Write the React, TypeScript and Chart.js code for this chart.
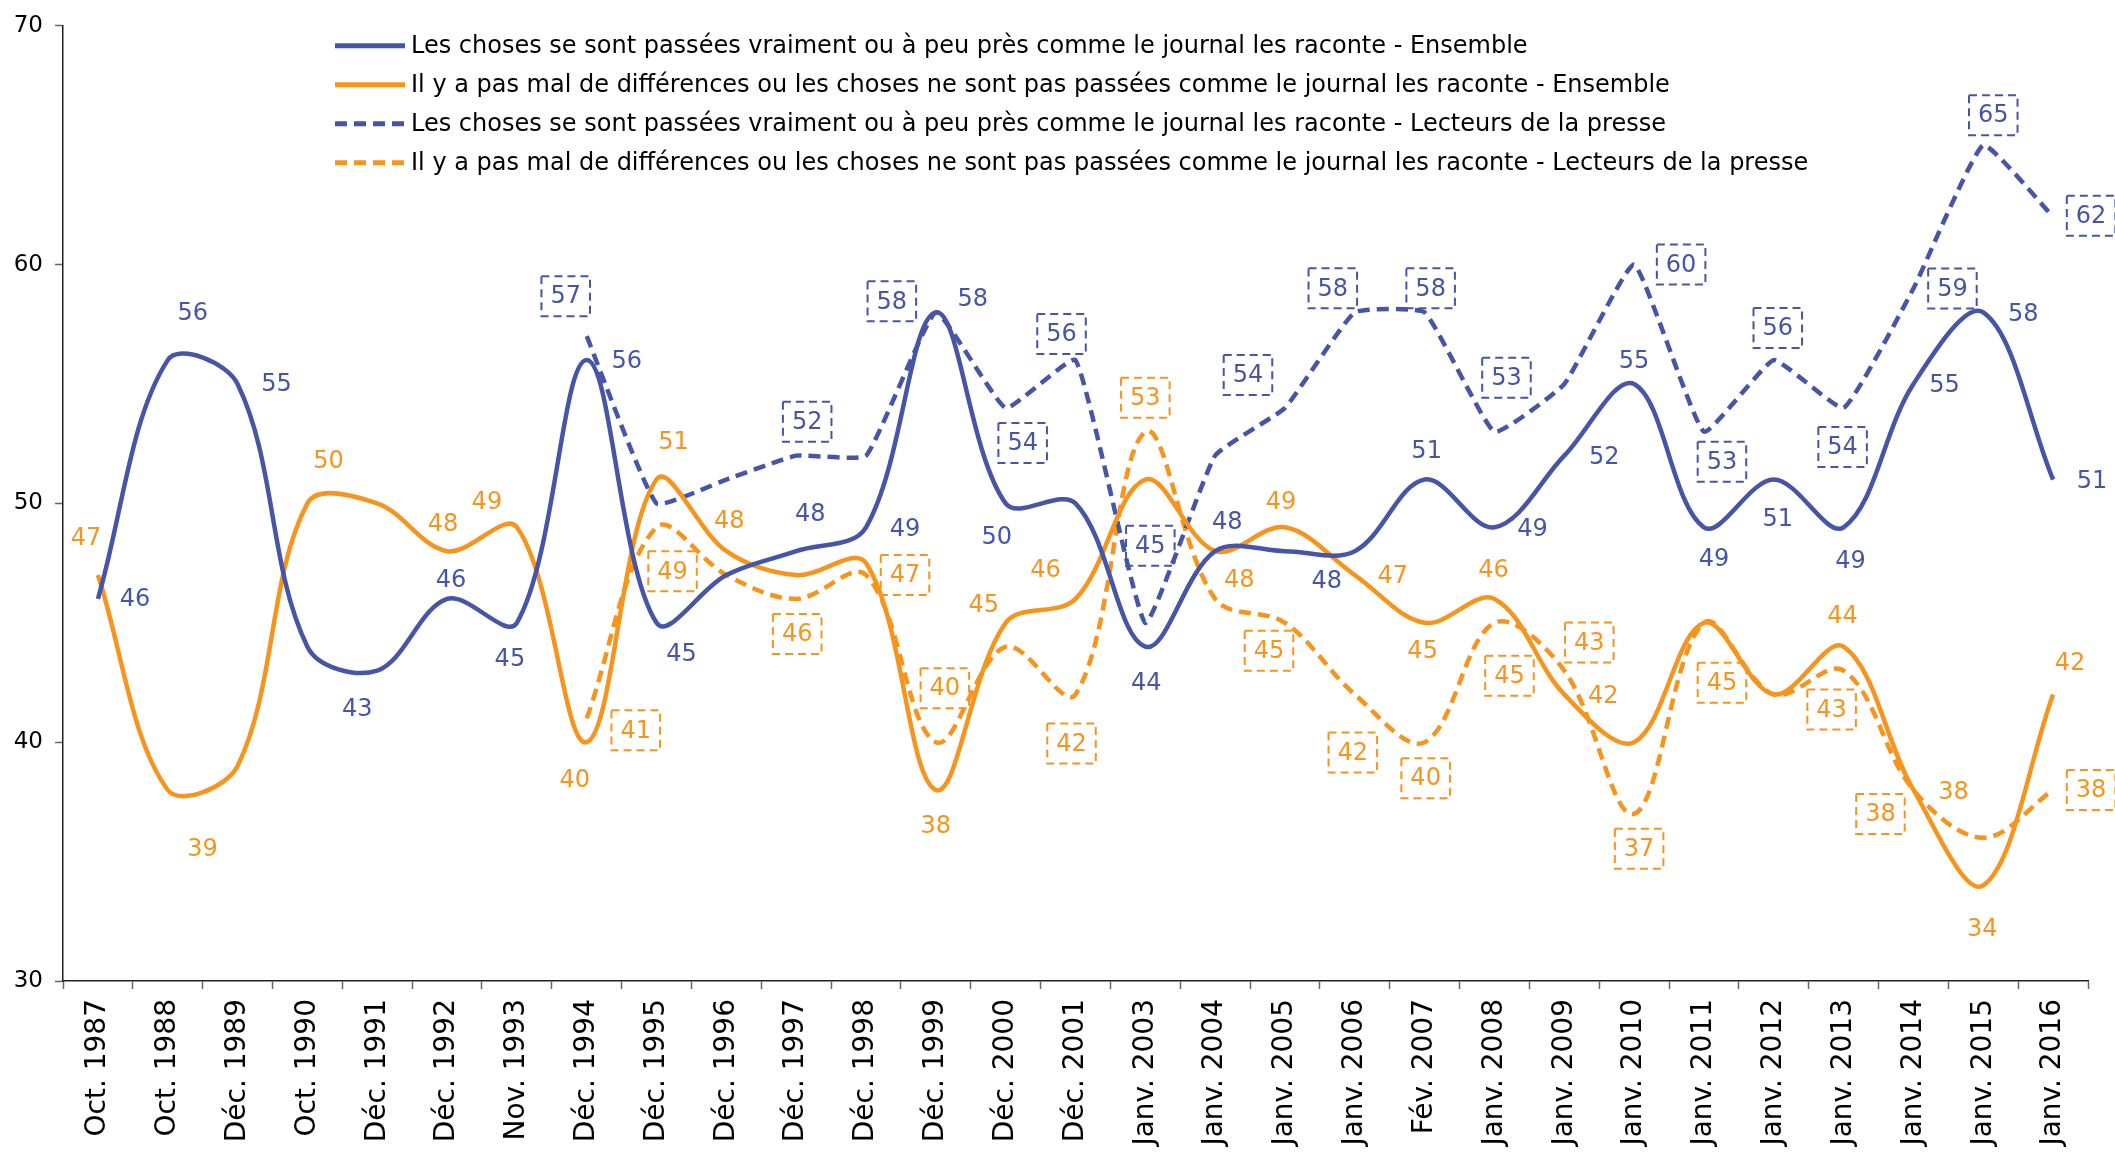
import { useEffect, useRef } from 'react';
import { Chart, registerables } from 'chart.js';

Chart.register(...registerables);

// ---------- DATA ----------
const categories = [
  'Oct. 1987', 'Oct. 1988', 'Déc. 1989', 'Oct. 1990', 'Déc. 1991', 'Déc. 1992', 'Nov. 1993',
  'Déc. 1994', 'Déc. 1995', 'Déc. 1996', 'Déc. 1997', 'Déc. 1998', 'Déc. 1999', 'Déc. 2000',
  'Déc. 2001', 'Janv. 2003', 'Janv. 2004', 'Janv. 2005', 'Janv. 2006', 'Fév. 2007', 'Janv. 2008',
  'Janv. 2009', 'Janv. 2010', 'Janv. 2011', 'Janv. 2012', 'Janv. 2013', 'Janv. 2014', 'Janv. 2015',
  'Janv. 2016',
];

const seriesNames = [
  'Les choses se sont passées vraiment ou à peu près comme le journal les raconte - Ensemble',
  'Il y a pas mal de différences ou les choses ne sont pas passées comme le journal les raconte - Ensemble',
  'Les choses se sont passées vraiment ou à peu près comme le journal les raconte - Lecteurs de la presse',
  'Il y a pas mal de différences ou les choses ne sont pas passées comme le journal les raconte - Lecteurs de la presse',
];

const ensembleVraiment = [46, 56, 55, 44, 43, 46, 45, 56, 45, 47, 48, 49, 58, 50, 50, 44, 48, 48, 48, 51, 49, 52, 55, 49, 51, 49, 55, 58, 51];
const ensembleDifferences = [47, 38, 39, 50, 50, 48, 49, 40, 51, 48, 47, 47.5, 38, 45, 46, 51, 48, 49, 47, 45, 46, 42, 40, 45, 42, 44, 38, 34, 42];
const lecteursVraiment = [null, null, null, null, null, null, null, 57, 50, 51, 52, 52, 58, 54, 56, 45, 52, 54, 58, 58, 53, 55, 60, 53, 56, 54, 59, 65, 62];
const lecteursDifferences = [null, null, null, null, null, null, null, 41, 49, 47, 46, 47, 40, 44, 42, 53, 46, 45, 42, 40, 45, 43, 37, 45, 42, 43, 38, 36, 38];

const yMin = 30;
const yMax = 70;
const yStep = 10;

// ---------- STYLE ----------
const BLUE = '#4655A6';
const ORANGE = '#F7941D';
const FONT = "'DejaVu Sans', Verdana, sans-serif";
const DASH = [12, 7];
const TENSIONS = [0.35, 0.35, 0.12, 0.35];

// label placement (pixel offset from the point), null = no label shown
type Off = [number, number] | null;
const offsBlueSolid: Off[] = [
  [37, 0], [25, -47], [39, 0], null, [-20, 38], [4, -19], [-7, 36], [40, 1], [25, 31], null,
  [14, -37], [39, 1], [37, -14], [-9, 33], null, [1, 36], [12, -29], null, [-28, 30], [2, -29],
  [38, 1], [40, 1], [0, -23], [10, 31], [4, 39], [7, 33], [31, 1], [40, 1], [39, 1],
];
const offsOrangeSolid: Off[] = [
  [-12, -37], null, [-35, 83], [21, -43], null, [-4, -27], [-30, -26], [-12, 38], [17, -38], [3, -30],
  null, null, [0, 36], [-22, -18], [-30, -29], null, [24, 29], [-4, -26], [38, 1], [-2, 28],
  [-1, -29], [39, 1], null, null, null, [-1, -31], [40, 2], [-1, 43], [17, -32],
];
const offsBlueDash: Off[] = [
  null, null, null, null, null, null, null, [-21, -40], null, null,
  [11, -34], null, [-44, -11], [17, 35], [-14, -26], [5, -77], null, [-37, -33], [-22, -24], [6, -24],
  [12, -54], null, [47, 0], [18, 30], [4, -32], [-1, 39], [39, 0], [10, -30], [38, -1],
];
const offsOrangeDash: Off[] = [
  null, null, null, null, null, null, null, [49, 12], [16, 44], null,
  [1, 35], [39, 0], [9, -54], null, [-4, 49], [0, -34], null, [-16, 28], [-2, 58], [1, 36],
  [15, 53], [25, -28], [5, 35], [18, 60], null, [-12, 39], [-33, 24], null, [38, 0],
];
const LABEL_OFFSETS = [offsBlueSolid, offsOrangeSolid, offsBlueDash, offsOrangeDash];
const BOXED = [false, false, true, true];

const pointLabelsPlugin = {
  id: 'pointLabels',
  afterDatasetsDraw(chart: any) {
    const ctx = chart.ctx;
    chart.data.datasets.forEach((ds: any, di: number) => {
      const meta = chart.getDatasetMeta(di);
      const offs = LABEL_OFFSETS[di];
      ctx.save();
      ctx.font = `24px ${FONT}`;
      ctx.textAlign = 'center';
      ctx.textBaseline = 'middle';
      meta.data.forEach((pt: any, i: number) => {
        const v = ds.data[i];
        const o = offs[i];
        if (v == null || !o) return;
        const x = pt.x + o[0];
        const y = pt.y + o[1];
        const text = String(Math.round(v));
        ctx.fillStyle = ds.borderColor;
        ctx.fillText(text, x, y + 1);
        if (BOXED[di]) {
          const w = ctx.measureText(text).width + 18;
          const h = 40;
          ctx.setLineDash([8, 5]);
          ctx.lineWidth = 2;
          ctx.strokeStyle = ds.borderColor;
          ctx.strokeRect(x - w / 2, y - h / 2, w, h);
        }
      });
      ctx.restore();
    });
  },
};

const legendPlugin = {
  id: 'customLegend',
  afterDraw(chart: any) {
    const { ctx, chartArea } = chart;
    const x0 = chartArea.left + 272;
    const y0 = chartArea.top + 20;
    ctx.save();
    chart.data.datasets.forEach((ds: any, i: number) => {
      const y = y0 + i * 39;
      ctx.beginPath();
      ctx.setLineDash(ds.borderDash || []);
      ctx.strokeStyle = ds.borderColor;
      ctx.lineWidth = 5;
      ctx.moveTo(x0, y);
      ctx.lineTo(x0 + 70, y);
      ctx.stroke();
      ctx.setLineDash([]);
      ctx.fillStyle = '#000';
      ctx.font = `24px ${FONT}`;
      ctx.textAlign = 'left';
      ctx.textBaseline = 'middle';
      ctx.fillText(ds.label, x0 + 76, y + 1);
    });
    ctx.restore();
  },
};

export default function App() {
  const ref = useRef<HTMLCanvasElement | null>(null);

  useEffect(() => {
    if (!ref.current) return;
    const mk = (label: string, data: (number | null)[], color: string, dashed: boolean, tension: number) => ({
      label,
      data,
      borderColor: color,
      backgroundColor: color,
      borderWidth: 4.5,
      borderDash: dashed ? DASH : [],
      pointRadius: 0,
      pointHoverRadius: 0,
      tension,
      fill: false,
      spanGaps: false,
    });
    const chart = new Chart(ref.current, {
      type: 'line',
      data: {
        labels: categories,
        datasets: [
          mk(seriesNames[0], ensembleVraiment, BLUE, false, TENSIONS[0]),
          mk(seriesNames[1], ensembleDifferences, ORANGE, false, TENSIONS[1]),
          mk(seriesNames[2], lecteursVraiment, BLUE, true, TENSIONS[2]),
          mk(seriesNames[3], lecteursDifferences, ORANGE, true, TENSIONS[3]),
        ],
      },
      options: {
        responsive: false,
        animation: false,
        events: [],
        layout: { padding: { top: 22, right: 27, left: 0, bottom: 0 } },
        plugins: {
          legend: { display: false },
          title: { display: false },
          tooltip: { enabled: false },
        },
        scales: {
          x: {
            type: 'category',
            offset: true,
            grid: {
              display: true,
              offset: true,
              drawOnChartArea: false,
              drawTicks: true,
              tickLength: 8,
              tickColor: '#666',
              tickWidth: 1.5,
            },
            border: { display: true, color: '#222', width: 1.5 },
            ticks: {
              autoSkip: false,
              maxRotation: 90,
              minRotation: 90,
              padding: 10,
              color: '#000',
              font: { family: FONT, size: 28 },
            },
            afterFit: (s: any) => { s.height = 176; },
          },
          y: {
            min: yMin,
            max: yMax,
            grid: {
              display: true,
              drawOnChartArea: false,
              drawTicks: true,
              tickLength: 8,
              tickColor: '#666',
              tickWidth: 1.5,
            },
            border: { display: true, color: '#222', width: 1.5 },
            ticks: {
              stepSize: yStep,
              padding: 12,
              color: '#000',
              font: { family: FONT, size: 23 },
            },
            afterFit: (s: any) => { s.width = 63; },
          },
        },
      },
      plugins: [pointLabelsPlugin, legendPlugin],
    } as any);
    return () => chart.destroy();
  }, []);

  return (
    <div style={{ position: 'fixed', left: 0, top: 0, width: 2115, height: 1157, background: '#fff' }}>
      <canvas ref={ref} width={2115} height={1157} style={{ display: 'block' }} />
    </div>
  );
}
